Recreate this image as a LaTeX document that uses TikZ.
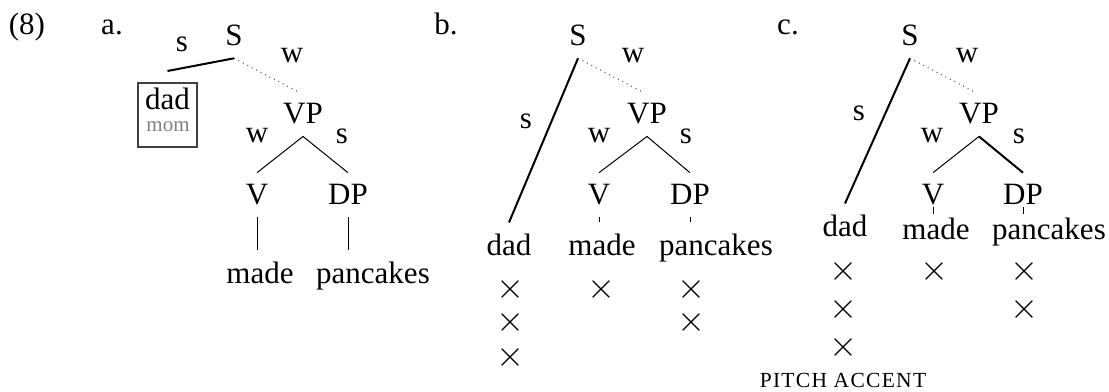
\documentclass[tikz,border=0pt]{standalone}
\usepackage{fontspec}
\setmainfont{Liberation Serif}
\usetikzlibrary{calc}
\tikzset{
  cat/.style={inner sep=0pt, outer xsep=0pt, outer ysep=4.8pt, anchor=base},
  lab/.style={inner sep=0pt},
  grid/.style={inner sep=0pt, font=\fontsize{15}{15}\selectfont},
  frame/.style={draw=black!75, line width=0.5pt, minimum width=23.6pt, minimum height=25.6pt, inner sep=0pt, outer ysep=4.8pt},
  strong/.style={line width=0.8pt},
  weak/.style={line width=0.4pt},
  faint/.style={line width=0.4pt, black!70, dash pattern=on 0.4pt off 1.6pt},
}

\begin{document}
\begin{tikzpicture}[x=0.4pt, y=-0.4pt, font=\fontsize{12.4}{14}\selectfont]
\useasboundingbox (0,0) rectangle (1109,392);

\node [anchor=base] (num) at (27,35) {(8)};
\node [anchor=base] (la) at (112,35) {a.};
\node [anchor=base] (lb) at (446,35) {b.};
\node [anchor=base] (lc) at (788,35) {c.};

% a.
\node [cat] (aS) at (234,46) {S};
\node [frame] (adad) at (167.5,115) {};
\node [anchor=base, inner sep=0pt] (adadw) at (167.5,110) {dad};
\node [anchor=base, inner sep=0pt, black!50, font=\fontsize{8.4}{9}\selectfont] (amom) at (168,132) {mom};
\node [cat] (aVP) at (303,124) {VP};
\node [cat] (aV) at (257,205) {V};
\node [cat] (aDP) at (348,205) {DP};
\node [cat] (amade) at (260,284) {made};
\node [cat] (apan) at (373,284) {pancakes};
\node [lab] (as1) at (182,44) {s};
\node [lab] (aw1) at (292,56) {w};
\node [lab] (aw2) at (257,136) {w};
\node [lab] (as2) at (342,136) {s};
\draw [strong] (aS.south) -- (adad.north);
\draw [faint] (aS.south) -- ([xshift=-2pt]aVP.north);
\draw [weak] (aVP.south) -- (aV.north);
\draw [weak] (aVP.south) -- (aDP.north);
\draw [weak] (aV.south) -- (aV.south |- amade.north);
\draw [weak] (aDP.south) -- (aDP.south |- apan.north);

% b.
\node [cat] (bS) at (578,46) {S};
\node [cat] (bVP) at (647,124) {VP};
\node [cat] (bV) at (599,205) {V};
\node [cat] (bDP) at (690,205) {DP};
\node [cat] (bdad) at (509,256) {dad};
\node [cat] (bmade) at (602,256) {made};
\node [cat] (bpan) at (716,256) {pancakes};
\node [lab] (bs1) at (526,121) {s};
\node [lab] (bw1) at (633,56) {w};
\node [lab] (bw2) at (599,136) {w};
\node [lab] (bs2) at (686,136) {s};
\draw [strong] (bS.south) -- (bdad.north);
\draw [faint] (bS.south) -- ([xshift=-2pt]bVP.north);
\draw [weak] (bVP.south) -- (bV.north);
\draw [weak] (bVP.south) -- (bDP.north);
\draw [weak] (bV.south) -- (bV.south |- bmade.north);
\draw [weak] (bDP.south) -- (bDP.south |- bpan.north);
\node [grid] (bx1) at (510,290) {$\times$};
\node [grid] (bx2) at (510,323) {$\times$};
\node [grid] (bx3) at (510,358) {$\times$};
\node [grid] (bx4) at (601,290) {$\times$};
\node [grid] (bx5) at (691,290) {$\times$};
\node [grid] (bx6) at (691,323) {$\times$};

% c.
\node [cat] (cS) at (910,46) {S};
\node [cat] (cVP) at (979,124) {VP};
\node [cat] (cV) at (933,205) {V};
\node [cat] (cDP) at (1023,205) {DP};
\node [cat] (cdad) at (845,237) {dad};
\node [cat, outer ysep=1.6pt] (cmade) at (936,240) {made};
\node [cat, outer ysep=1.6pt] (cpan) at (1049,240) {pancakes};
\node [lab] (cs1) at (859,113) {s};
\node [lab] (cw1) at (967,56) {w};
\node [lab] (cw2) at (932,136) {w};
\node [lab] (cs2) at (1019,136) {s};
\draw [strong] (cS.south) -- (cdad.north);
\draw [faint] (cS.south) -- ([xshift=-2pt]cVP.north);
\draw [weak] (cVP.south) -- (cV.north);
\draw [strong] (cVP.south) -- (cDP.north);
\draw [weak] ([yshift=-0.8pt]cV.base) -- (cV.base |- cmade.north);
\draw [weak] ([yshift=-0.8pt]cDP.base) -- (cDP.base |- cpan.north);
\node [grid] (cx1) at (843,272) {$\times$};
\node [grid] (cx2) at (843,310) {$\times$};
\node [grid] (cx3) at (843,348) {$\times$};
\node [grid] (cx4) at (934,272) {$\times$};
\node [grid] (cx5) at (1024,272) {$\times$};
\node [grid] (cx6) at (1024,310) {$\times$};
\node [anchor=base, inner sep=0pt, font=\fontsize{8.6}{10}\selectfont\addfontfeature{LetterSpace=6}] (pa) at (843,388) {PITCH ACCENT};

\end{tikzpicture}
\end{document}
